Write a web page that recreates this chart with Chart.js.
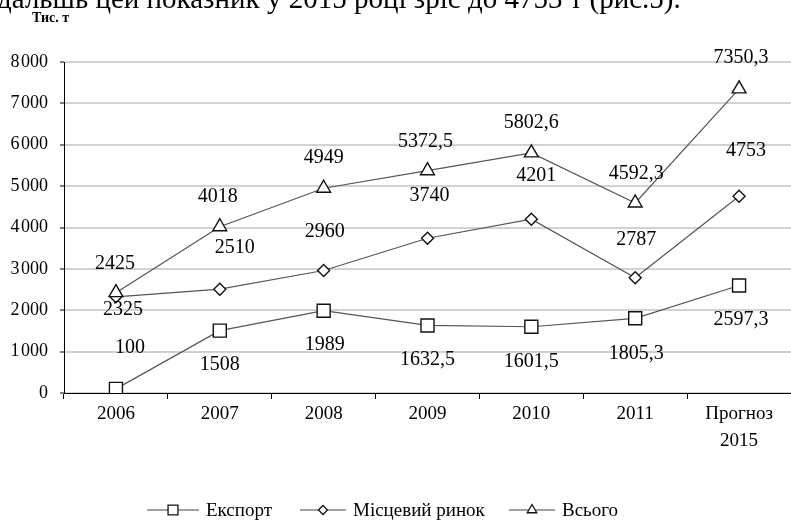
<!DOCTYPE html>
<html><head><meta charset="utf-8">
<script src="https://cdn.jsdelivr.net/npm/chart.js@4/dist/chart.umd.min.js"></script>
<style>
html,body{margin:0;padding:0;background:#fff;overflow:hidden;}
#wrap{position:relative;width:791px;height:521px;overflow:hidden;}
#top{position:absolute;left:-3px;top:-16px;font:29px/29px "Liberation Serif";color:#000;white-space:nowrap;}
#unit{position:absolute;left:32px;top:10px;font:bold 14px/15px "Liberation Serif";color:#000;}
canvas{position:absolute;left:0;top:0;}
</style></head>
<body><div id="wrap">
<canvas id="c" width="791" height="521"></canvas>
<div id="top">дальшь цей показник у 2015 році зріс до 4753 т (рис.5).</div>
<div id="unit">Тис. т</div>
</div>
<script>
const categories = ["2006","2007","2008","2009","2010","2011",["Прогноз","2015"]];
const seriesNames = ["Експорт","Місцевий ринок","Всього"];
const exportValues = [100,1508,1989,1632.5,1601.5,1805.3,2597.3];
const localValues = [2325,2510,2960,3740,4201,2787,4753];
const totalValues = [2425,4018,4949,5372.5,5802.6,4592.3,7350.3];
const yTicks = [0,1000,2000,3000,4000,5000,6000,7000,8000];

// label placement (style only)
const labelDy = [[-41,34,34,34,35,35,34],[13,-41,-39,-43,-43,-38,-46],[-29,-30,-30,-29,-30,-29,-31]];
const labelDx = [[14,0,1,0,0,1,2],[7,15,1,2,5,1,7],[-1,-2,0,-2,0,1,2]];

const FONT = '"Liberation Serif"';
const fmt = v => String(v).replace('.', ',');

const dataLabels = {
  id:'dataLabels',
  afterDatasetsDraw(chart){
    const ctx = chart.ctx;
    ctx.save();
    ctx.font = '20px ' + FONT;
    ctx.fillStyle = '#000';
    ctx.textAlign = 'center';
    ctx.textBaseline = 'middle';
    chart.data.datasets.forEach((ds, di) => {
      const meta = chart.getDatasetMeta(di);
      meta.data.forEach((pt, i) => {
        ctx.fillText(fmt(ds.data[i]), pt.x + labelDx[di][i], pt.y + labelDy[di][i]);
      });
    });
    ctx.restore();
  }
};

const legendPlugin = {
  id:'customLegend',
  afterDraw(chart){
    const ctx = chart.ctx;
    const y = 510;
    const items = [{x:147,len:52},{x:300,len:46},{x:509,len:46}];
    ctx.save();
    chart.data.datasets.forEach((ds, di) => {
      const it = items[di];
      ctx.strokeStyle = '#444';
      ctx.lineWidth = 1.2;
      ctx.beginPath(); ctx.moveTo(it.x, y); ctx.lineTo(it.x + it.len, y); ctx.stroke();
      ctx.fillStyle = '#fff'; ctx.strokeStyle = '#111'; ctx.lineWidth = 1.3;
      Chart.helpers.drawPoint(ctx, {pointStyle: ds.pointStyle, radius: ds.legendRadius, borderWidth:1.3}, it.x + it.len/2, y);
      ctx.fillStyle = '#000';
      ctx.font = '19px ' + FONT;
      ctx.textAlign = 'left';
      ctx.textBaseline = 'middle';
      ctx.fillText(ds.label, it.x + it.len + 7, y + 1);
    });
    ctx.restore();
  }
};

const common = {borderColor:'#555', borderWidth:1.2, pointBackgroundColor:'#fff', pointBorderColor:'#111', pointBorderWidth:1.4, tension:0};

new Chart(document.getElementById('c'), {
  type:'line',
  data:{
    labels: categories,
    datasets:[
      Object.assign({label:seriesNames[0], data:exportValues, pointStyle:'rect', pointRadius:9.2, legendRadius:7, order:2}, common),
      Object.assign({label:seriesNames[1], data:localValues, pointStyle:'rectRot', pointRadius:6, legendRadius:4.5, order:1}, common),
      Object.assign({label:seriesNames[2], data:totalValues, pointStyle:'triangle', pointRadius:8, legendRadius:5.5, order:0}, common)
    ]
  },
  options:{
    responsive:false,
    animation:false,
    layout:{autoPadding:false, padding:{top:62,left:0,right:0,bottom:0}},
    plugins:{legend:{display:false}, tooltip:{enabled:false}},
    scales:{
      x:{
        offset:true,
        grid:{offset:true, drawOnChartArea:false, drawTicks:true, tickLength:6, tickColor:'#000', tickWidth:1},
        border:{display:true, color:'#000', width:1},
        ticks:{color:'#000', font:{family:'Liberation Serif', size:19, lineHeight:1.4}, padding:2, maxRotation:0, autoSkip:false},
        afterFit(s){ s.height = 521 - 393; s.paddingLeft = 0; s.paddingRight = 0; }
      },
      y:{
        min:0, max:8000,
        afterBuildTicks(s){ s.ticks = yTicks.map(v => ({value:v})); },
        grid:{color:'#d2d2d2', lineWidth:2, drawTicks:true, tickLength:4, tickColor:'#000', tickWidth:1},
        border:{display:true, color:'#000', width:1},
        ticks:{color:'#000', font:{family:'Liberation Serif', size:18}, padding:12,
          callback:v => v >= 1000 ? String(v).slice(0,-3) + '\u200A' + String(v).slice(-3) : String(v)},
        afterFit(s){ s.width = 64; s.paddingTop = 0; s.paddingBottom = 0; }
      }
    }
  },
  plugins:[dataLabels, legendPlugin]
});
</script>
</body></html>
